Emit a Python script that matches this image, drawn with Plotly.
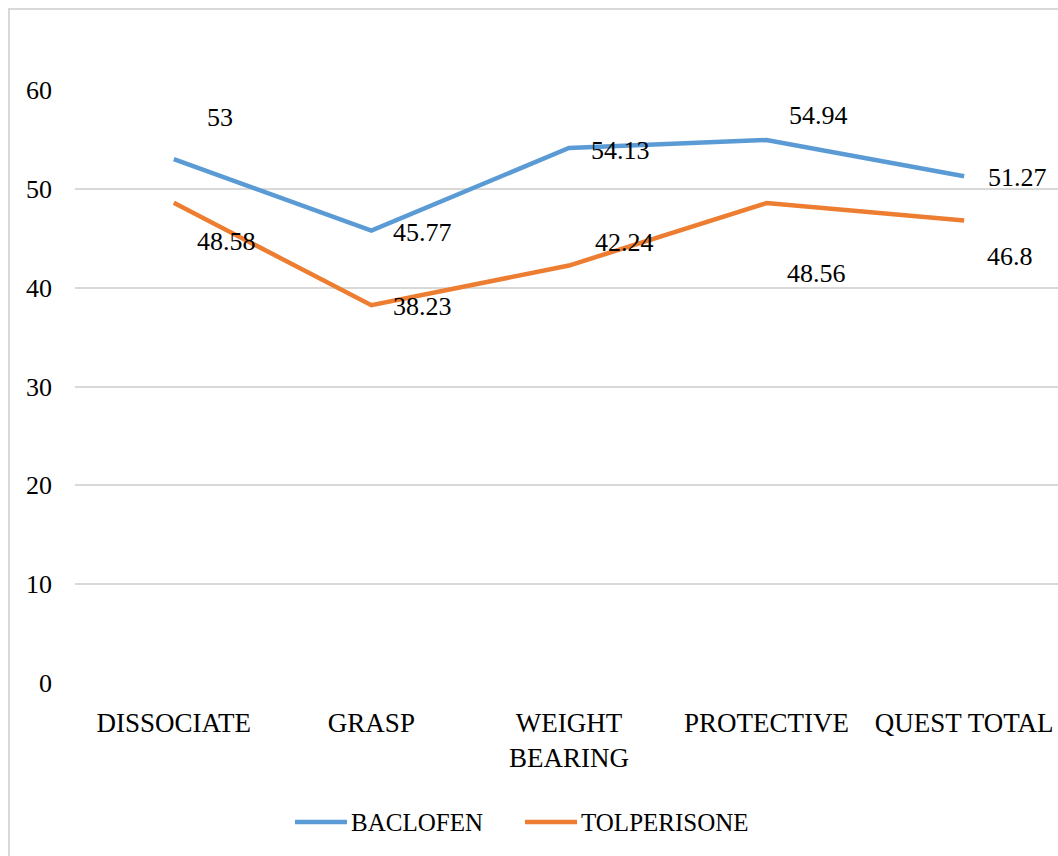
import plotly.graph_objects as go

# QUEST domain scores by treatment group
categories = ["DISSOCIATE", "GRASP", "WEIGHT BEARING", "PROTECTIVE", "QUEST TOTAL"]
category_labels = ["DISSOCIATE", "GRASP", "WEIGHT<br>BEARING", "PROTECTIVE", "QUEST TOTAL"]
baclofen = [53, 45.77, 54.13, 54.94, 51.27]
tolperisone = [48.58, 38.23, 42.24, 48.56, 46.8]
y_ticks = [0, 10, 20, 30, 40, 50, 60]
series_names = ["BACLOFEN", "TOLPERISONE"]

# pixel offsets (dx right, dy down) of each value label from its point
baclofen_label_offsets = [(46, -42), (51, 2), (52, 2), (52, -25), (53, 1)]
tolperisone_label_offsets = [(53, 39), (51, 1), (56, -23), (50, 70), (46, 36)]

BLUE = "#5B9BD5"
ORANGE = "#ED7D31"
GRID = "#D9D9D9"
FONT = "Liberation Serif"
FS = 26

# plot area in pixels: x 75..1058, y 90..683
L, R, T, B = 75, 1058, 90, 683
W, H = R - L, B - T


def px(x):
    return (x - L) / W


def py(y):
    return (B - y) / H


fig = go.Figure()
for name, values, color in ((series_names[0], baclofen, BLUE),
                            (series_names[1], tolperisone, ORANGE)):
    fig.add_trace(go.Scatter(
        x=categories, y=values, mode="lines", name=name,
        line=dict(color=color, width=4.5), showlegend=False,
    ))

annotations = []
for values, offsets in ((baclofen, baclofen_label_offsets),
                        (tolperisone, tolperisone_label_offsets)):
    for cat, val, (dx, dy) in zip(categories, values, offsets):
        annotations.append(dict(
            x=cat, y=val, xref="x", yref="y", text=f"{val:g}",
            showarrow=False, xshift=dx, yshift=-dy,
            font=dict(family=FONT, size=FS, color="#000000"),
        ))

# outer chart border (left and top edges)
shapes = [dict(
    type="path", xref="paper", yref="paper",
    path=f"M {px(9)},{py(900)} L {px(9)},{py(9)} L {px(1100)},{py(9)}",
    line=dict(color=GRID, width=2),
)]

# legend row under the axis
legend_y = 822
legend_items = [(series_names[0], BLUE, 295, 347), (series_names[1], ORANGE, 525, 577)]
for name, color, x0, x1 in legend_items:
    shapes.append(dict(
        type="line", xref="paper", yref="paper",
        x0=px(x0), x1=px(x1), y0=py(legend_y), y1=py(legend_y),
        line=dict(color=color, width=4.5),
    ))
    annotations.append(dict(
        x=px(x1 + 2), y=py(legend_y), xref="paper", yref="paper",
        xanchor="left", yanchor="middle", text=name, showarrow=False,
        font=dict(family=FONT, size=25, color="#000000"),
    ))

fig.update_layout(
    width=1058, height=856,
    margin=dict(l=L, r=1058 - R, t=T, b=856 - B),
    paper_bgcolor="white", plot_bgcolor="white",
    font=dict(family=FONT, size=FS, color="#000000"),
    showlegend=False,
    annotations=annotations,
    shapes=shapes,
    xaxis=dict(
        type="category", categoryorder="array", categoryarray=categories,
        tickmode="array", tickvals=categories, ticktext=category_labels,
        range=[-0.5, 4.475], showgrid=False, zeroline=False, showline=False,
        ticks="", ticklabelstandoff=21,
        tickfont=dict(family=FONT, size=27, color="#000000"),
    ),
    yaxis=dict(
        range=[0, 60], tickmode="array", tickvals=y_ticks,
        showgrid=True, gridcolor=GRID, gridwidth=1.5,
        zeroline=False, showline=False, ticks="", ticklabelstandoff=22,
        tickfont=dict(family=FONT, size=FS, color="#000000"),
    ),
)

fig.write_html("out.html")
